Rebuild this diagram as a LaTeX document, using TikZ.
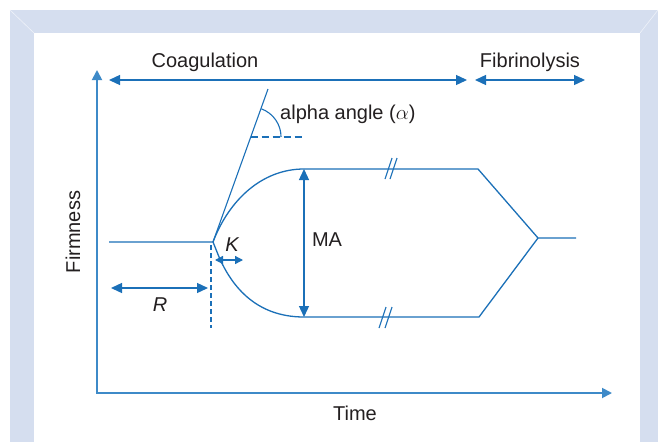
\documentclass[tikz,border=0pt]{standalone}
\usepackage{fontspec}
\setmainfont{Liberation Sans}
\usetikzlibrary{arrows.meta}
\definecolor{teglblue}{RGB}{27,112,184}
\definecolor{axisblue}{RGB}{62,138,200}
\definecolor{bandgray}{RGB}{213,222,239}
\definecolor{inkgray}{RGB}{35,31,32}

\begin{document}
\begin{tikzpicture}[
  x=1pt, y=-1pt,
  curve/.style={teglblue, line width=1.3pt},
  axis/.style={axisblue, line width=1.8pt, {Triangle[length=10pt,width=10pt]}-{Triangle[length=10pt,width=10pt]}},
  dbl/.style={teglblue, line width=1.3pt, {Triangle[length=11pt,width=10pt]}-{Triangle[length=11pt,width=10pt]}},
  lbl/.style={font=\fontsize{20}{24}\selectfont, text=inkgray, inner sep=0pt}
]
\useasboundingbox (0,0) rectangle (658,442);

%% ===== frame =====
\fill[bandgray] (10,10) rectangle (658,442);
\fill[white] (34,33) rectangle (640,442);
\draw[white!60!bandgray, line width=0.6pt] (10,10) -- (34,33) (658,10) -- (640,33);

%% ===== axes =====
\coordinate (ytop) at (97,70);
\coordinate (xend) at (612,393);
\draw[axis] (ytop) |- (xend);
\node[lbl, anchor=base] (time) at (355,420) {Time};
\node[lbl, rotate=90] (firm) at (73,232) {Firmness};

%% ===== phases =====
\coordinate (cl) at (109,80);
\coordinate (cr) at (467,80);
\coordinate (fl) at (475,80);
\coordinate (fr) at (585,80);
\draw[dbl] (cl) -- (cr);
\draw[dbl] (fl) -- (fr);
\node[lbl, anchor=base] (coag) at (205,67) {Coagulation};
\node[lbl, anchor=base] (fibr) at (530,67) {Fibrinolysis};

%% ===== trace =====
\coordinate (b0) at (109,242);
\coordinate (v) at (213,242);
\coordinate (mt) at (304,169);
\coordinate (mb) at (304,317);
\coordinate (ut) at (478,169);
\coordinate (lt) at (479,317);
\coordinate (tip) at (538,238);
\coordinate (tail) at (576,238);
\draw[curve] (b0) -- (v) .. controls (229,200) and (262,169) .. (mt) -- (ut) -- (tip) -- (tail);
\draw[curve] (v) -- (217,252) .. controls (230,285) and (255,317) .. (mb) -- (lt) -- (tip);

%% break marks
\draw[curve, line width=1.1pt] (385,179) -- (392,158) (390,179) -- (397,158);
\draw[curve, line width=1.1pt] (379,328) -- (386,307) (385,328) -- (392,307);

%% ===== alpha angle =====
\coordinate (tn) at (268,89);
\coordinate (hl) at (250.5,137);
\coordinate (hr) at (305,137);
\draw[curve, line width=1.1pt] (v) -- (tn);
\draw[curve, line width=1.1pt, dash pattern=on 7pt off 4pt] (hl) -- (hr);
\draw[curve, line width=1.1pt] (261.3,108.8) arc[start angle=70, end angle=0, radius=30pt];
\node[lbl, anchor=base west] (alpha) at (280,119) {alpha angle ($\alpha$)};

%% ===== R, K, MA =====
\coordinate (dt) at (211,245);
\coordinate (db) at (211,328);
\draw[curve, line width=1.1pt, dash pattern=on 5pt off 3pt] (dt) -- (db);
\coordinate (rl) at (111,288);
\coordinate (rr) at (208,288);
\draw[dbl] (rl) -- (rr);
\node[lbl] (rlab) at (160,305) {\itshape R};
\coordinate (kl) at (215,260);
\coordinate (kr) at (243,260);
\draw[teglblue, line width=1.3pt, {Triangle[length=8pt,width=8pt]}-{Triangle[length=8pt,width=8pt]}] (kl) -- (kr);
\node[lbl] (klab) at (232,245) {\itshape K};
\draw[dbl] (mt) -- (mb);
\node[lbl] (ma) at (327,240) {MA};

\end{tikzpicture}
\end{document}
